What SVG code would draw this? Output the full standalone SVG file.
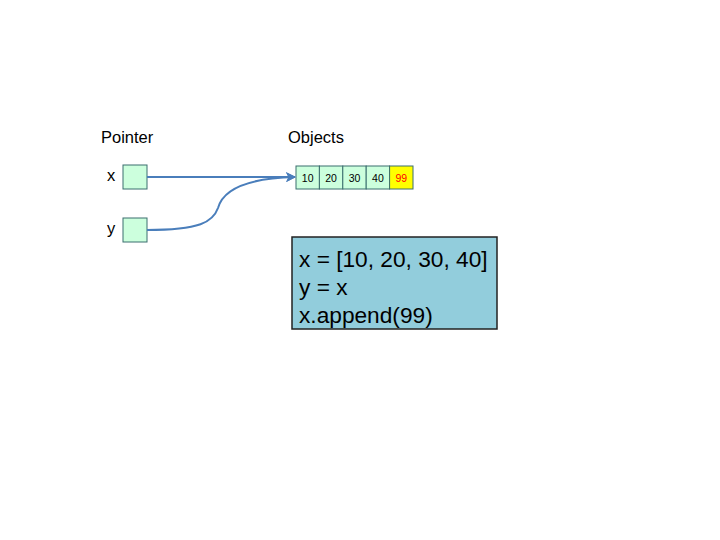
<svg xmlns="http://www.w3.org/2000/svg" width="720" height="540" viewBox="0 0 720 540">
<style>
.lbl{font-family:"Liberation Sans",Arial,sans-serif;font-size:16.5px;fill:#000}
.cell{fill:#ccffdd;stroke:#3b6e6e;stroke-width:1}
.num{font-family:"Liberation Sans",Arial,sans-serif;font-size:10.5px;fill:#000;text-anchor:middle}
.code{font-family:"Liberation Sans",Arial,sans-serif;font-size:22.7px;fill:#000}
.conn{fill:none;stroke:#4a7ebb;stroke-width:2}
</style>
<defs>
<marker id="ah" viewBox="0 0 10 10" refX="9" refY="5" markerWidth="6.5" markerHeight="5" orient="auto" markerUnits="strokeWidth">
<path d="M0,0 L10,5 L0,10 L2.5,5 z" fill="#4a7ebb"/>
</marker>
</defs>
<rect width="720" height="540" fill="#fff"/>
<text class="lbl" x="101" y="143">Pointer</text>
<text class="lbl" x="288" y="143">Objects</text>
<g id="px">
<text class="lbl" x="107" y="181">x</text>
<rect class="cell" x="123" y="165" width="24" height="24"/>
</g>
<g id="py">
<text class="lbl" x="107" y="234">y</text>
<rect class="cell" x="123" y="218" width="24" height="24"/>
</g>
<g id="list">
<rect class="cell" x="296" y="166" width="23.4" height="23"/>
<rect class="cell" x="319.4" y="166" width="23.4" height="23"/>
<rect class="cell" x="342.8" y="166" width="23.4" height="23"/>
<rect class="cell" x="366.2" y="166" width="23.4" height="23"/>
<rect x="389.6" y="166" width="23.4" height="23" fill="#ffff00" stroke="#3b6e6e"/>
<text class="num" x="307.7" y="181.5">10</text>
<text class="num" x="331.1" y="181.5">20</text>
<text class="num" x="354.5" y="181.5">30</text>
<text class="num" x="377.9" y="181.5">40</text>
<text class="num" x="401.3" y="181.5" style="fill:#ff0000">99</text>
</g>
<g id="connectors">
<path class="conn" d="M147,177 L295,177" marker-end="url(#ah)"/>
<path class="conn" d="M147,230 C200,230 213,222 218,208 C224,186 255,178 295,177" marker-end="url(#ah)"/>
</g>
<g id="codebox">
<rect x="292" y="237" width="205" height="92" fill="#92cddc" stroke="#222" stroke-width="1.5"/>
<text class="code" x="299" y="267">x = [10, 20, 30, 40]</text>
<text class="code" x="299" y="295">y = x</text>
<text class="code" x="299" y="323">x.append(99)</text>
</g>
</svg>
